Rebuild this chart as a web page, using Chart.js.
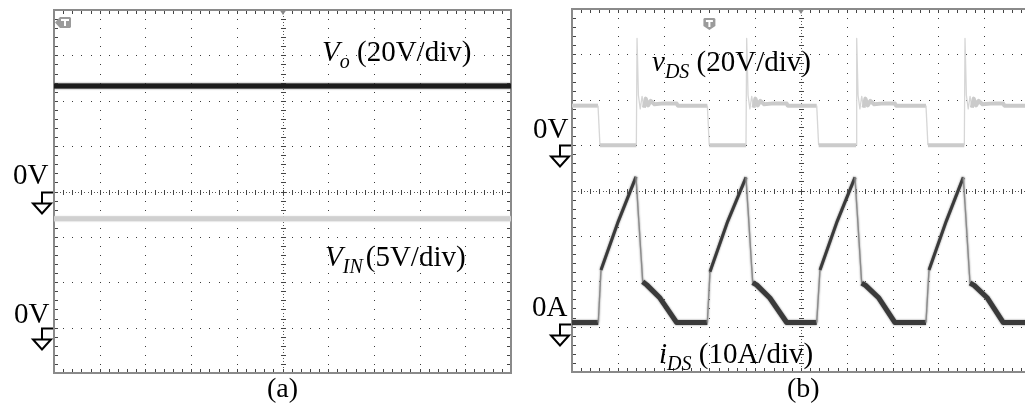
<!DOCTYPE html>
<html><head><meta charset="utf-8">
<title>Oscilloscope waveforms (a) and (b)</title>
<script src="https://cdn.jsdelivr.net/npm/chart.js@4.4.1/dist/chart.umd.min.js"></script>
<style>
html,body{margin:0;padding:0;background:#fff;}
#wrap{position:relative;width:1025px;height:410px;overflow:hidden;background:#fff;}
#wrap canvas{position:absolute;top:0;}
.t{position:absolute;font-family:"Liberation Serif","Times New Roman",serif;font-size:29px;line-height:29px;color:#000;white-space:nowrap;}
.t i{font-style:italic;}
.t sub{font-size:20px;font-style:italic;vertical-align:baseline;position:relative;top:7px;line-height:0;}
.cap{font-size:28px;line-height:28px;}
</style></head>
<body>
<div id="wrap">
 <canvas id="chartA" width="520" height="410" style="left:0;width:520px;height:410px"></canvas>
 <canvas id="chartB" width="520" height="410" style="left:520px;width:520px;height:410px"></canvas>
 <div class="t" style="left:322px;top:37px"><i>V</i><sub>o</sub> (20V/div)</div>
 <div class="t" style="left:325px;top:242px"><i>V</i><sub style="margin-right:3px">IN</sub>(5V/div)</div>
 <div class="t" style="left:13px;top:160px">0V</div>
 <div class="t" style="left:14px;top:299px">0V</div>
 <div class="t" style="left:652px;top:47px"><i>v</i><sub>DS</sub> (20V/div)</div>
 <div class="t" style="left:533px;top:114px">0V</div>
 <div class="t" style="left:532px;top:292px">0A</div>
 <div class="t" style="left:659px;top:339px"><i>i</i><sub>DS</sub> (10A/div)</div>
 <div class="t cap" style="left:267px;top:374px">(a)</div>
 <div class="t cap" style="left:787px;top:374px">(b)</div>
</div>
<script>
// ---------- Panel (a) : time in divisions, values in volts ----------
const aTime = [0, 2, 4, 6, 8, 10];
const aVo   = [46.5, 46.5, 46.5, 46.5, 46.5, 46.5];
const aVin  = [12, 12, 12, 12, 12, 12];

// ---------- Panel (b) : time in divisions ----------
const bTimeV = [0,
  0.568, 0.61, 1.405, 1.42, 1.45, 1.49, 1.53, 1.57, 1.61, 1.66, 1.72, 1.80, 2.0, 2.286, 2.31,
  2.955, 2.997, 3.799, 3.814, 3.844, 3.884, 3.924, 3.964, 4.004, 4.054, 4.114, 4.194, 4.4, 4.688, 4.71,
  5.343, 5.385, 6.201, 6.216, 6.246, 6.286, 6.326, 6.366, 6.406, 6.456, 6.516, 6.596, 6.8, 7.052, 7.075,
  7.729, 7.771, 8.566, 8.581, 8.611, 8.651, 8.691, 8.731, 8.771, 8.821, 8.881, 8.961, 9.2, 9.417, 9.44,
  10];
const bVds = [17.4,
  17.4, 0, 0, 47, 22, 16, 21.5, 16.5, 20.5, 17.5, 19.5, 18, 18.4, 18.3, 17.4,
  17.4, 0, 0, 47, 22, 16, 21.5, 16.5, 20.5, 17.5, 19.5, 18, 18.4, 18.3, 17.4,
  17.4, 0, 0, 47, 22, 16, 21.5, 16.5, 20.5, 17.5, 19.5, 18, 18.4, 18.3, 17.4,
  17.4, 0, 0, 47, 22, 16, 21.5, 16.5, 20.5, 17.5, 19.5, 18, 18.4, 18.3, 17.4,
  17.4];
const bTimeI = [0,
  0.574, 0.633, 1.011, 1.397, 1.544, 1.631, 1.921, 2.286,
  2.955, 3.013, 3.40, 3.799, 3.945, 4.03, 4.32, 4.688,
  5.343, 5.415, 5.79, 6.179, 6.325, 6.41, 6.70, 7.052,
  7.729, 7.795, 8.17, 8.544, 8.690, 8.78, 9.07, 9.417,
  10];
const bIds = [0.3,
  0.3, 11.9, 22.6, 32.4, 9.3, 8.6, 5.7, 0.3,
  0.3, 11.5, 22.6, 32.3, 9.1, 8.6, 5.7, 0.3,
  0.3, 11.9, 22.6, 32.3, 9.0, 8.5, 5.7, 0.3,
  0.3, 11.9, 22.6, 32.3, 9.0, 8.5, 5.7, 0.3,
  0.3];

// channel settings: units per division, ground position (divisions above bottom)
const voPerDiv = 20, voGround = 4;
const vinPerDiv = 5, vinGround = 1;
const vdsPerDiv = 20, vdsGround = 5;
const idsPerDiv = 10, idsGround = 1.06;
const DIVX = 10, DIVY = 8;

const pts = (t, v) => t.map((x, i) => ({x, y: v[i]}));
const chAxis = (perDiv, ground) => ({type: 'linear', display: false, min: -ground * perDiv, max: (DIVY - ground) * perDiv});

const graticule = {
  id: 'graticule',
  beforeDatasetsDraw(chart, args, opts) {
    const ctx = chart.ctx, a = chart.chartArea;
    const xs = chart.scales.x, ys = chart.scales.y;
    const X = v => xs.getPixelForValue(v), Y = v => ys.getPixelForValue(v);
    ctx.save();
    ctx.fillStyle = '#3a3a3a';
    for (let i = 1; i < DIVX; i++) {
      if (i === DIVX / 2) continue;
      const x = Math.round(X(i));
      for (let k = 1; k < DIVY * 5; k++) ctx.fillRect(x, Math.round(Y(k / 5)), 1, 1);
    }
    for (let j = 1; j < DIVY; j++) {
      if (j === DIVY / 2) continue;
      const y = Math.round(Y(j));
      for (let k = 1; k < DIVX * 5; k++) ctx.fillRect(Math.round(X(k / 5)), y, 1, 1);
    }
    const cx = Math.round(X(DIVX / 2)), cy = Math.round(Y(DIVY / 2));
    ctx.fillStyle = '#555';
    for (let k = 1; k < DIVY * 15; k++) ctx.fillRect(cx, Math.round(Y(k / 15)), 1, 1);
    for (let k = 1; k < DIVX * 15; k++) ctx.fillRect(Math.round(X(k / 15)), cy, 1, 1);
    ctx.fillStyle = '#444';
    for (let k = 1; k < DIVY * 5; k++) ctx.fillRect(cx - 2, Math.round(Y(k / 5)), 5, 1);
    for (let k = 1; k < DIVX * 5; k++) ctx.fillRect(Math.round(X(k / 5)), cy - 2, 1, 5);
    for (let k = 1; k < DIVY * 5; k++) {
      const y = Math.round(Y(k / 5));
      ctx.fillRect(a.left, y, 4, 1);
      ctx.fillRect(a.right - 4, y, 4, 1);
    }
    for (let k = 1; k < DIVX * 5; k++) {
      const x = Math.round(X(k / 5));
      ctx.fillRect(x, a.top, 1, 4);
      ctx.fillRect(x, a.bottom - 4, 1, 4);
    }
    ctx.strokeStyle = '#8a8a8a';
    ctx.lineWidth = 2;
    ctx.strokeRect(a.left, a.top, a.right - a.left, a.bottom - a.top);
    ctx.fillStyle = '#8a8a8a';
    ctx.beginPath();
    ctx.moveTo(cx - 4, a.top - 1); ctx.lineTo(cx + 4, a.top - 1); ctx.lineTo(cx, a.top + 5); ctx.closePath(); ctx.fill();
    ctx.fillStyle = '#9b9b9b';
    const tx = X(opts.trigX), ty = a.top;
    ctx.beginPath();
    if (opts.trigDir === 'left') {
      ctx.moveTo(tx + 1, ty + 12.5);
      ctx.lineTo(tx + 6, ty + 7);
      ctx.lineTo(tx + 16, ty + 7);
      ctx.lineTo(tx + 17, ty + 8);
      ctx.lineTo(tx + 17, ty + 17);
      ctx.lineTo(tx + 16, ty + 18);
      ctx.lineTo(tx + 6, ty + 18);
      ctx.closePath(); ctx.fill();
      ctx.fillStyle = '#fff';
      ctx.fillRect(tx + 7, ty + 9, 8, 2);
      ctx.fillRect(tx + 10, ty + 9, 2, 7);
    } else {
      ctx.moveTo(tx - 5, ty + 9);
      ctx.lineTo(tx + 5, ty + 9);
      ctx.lineTo(tx + 6, ty + 10);
      ctx.lineTo(tx + 6, ty + 17);
      ctx.lineTo(tx, ty + 21);
      ctx.lineTo(tx - 6, ty + 17);
      ctx.lineTo(tx - 6, ty + 10);
      ctx.closePath(); ctx.fill();
      ctx.fillStyle = '#fff';
      ctx.fillRect(tx - 3.5, ty + 11, 7, 2);
      ctx.fillRect(tx - 1, ty + 11, 2, 7);
    }
    ctx.restore();
  },
  beforeDatasetDraw(chart, args) {
    const ds = chart.data.datasets[args.index];
    chart.ctx.save();
    if (ds.fuzz) { chart.ctx.shadowColor = ds.fuzz; chart.ctx.shadowBlur = 2; }
  },
  afterDatasetDraw(chart) { chart.ctx.restore(); },
  afterDraw(chart, args, opts) {
    const ctx = chart.ctx, a = chart.chartArea;
    ctx.save();
    ctx.strokeStyle = '#000';
    ctx.fillStyle = '#fff';
    ctx.lineWidth = 2;
    (opts.grounds || []).forEach(id => {
      const g = Math.round(chart.scales[id].getPixelForValue(0)) + 0.5;
      const fx = a.left - 12;
      ctx.beginPath();
      ctx.moveTo(a.left - 1, g); ctx.lineTo(fx, g); ctx.lineTo(fx, g + 11);
      ctx.stroke();
      ctx.beginPath();
      ctx.moveTo(fx - 9, g + 11); ctx.lineTo(fx + 9, g + 11); ctx.lineTo(fx, g + 21); ctx.closePath();
      ctx.fill(); ctx.stroke();
    });
    ctx.restore();
  }
};

const common = {
  responsive: false, animation: false, devicePixelRatio: 1,
  plugins: {legend: {display: false}, tooltip: {enabled: false}},
  elements: {point: {radius: 0}, line: {tension: 0, borderCapStyle: 'butt', borderJoinStyle: 'round'}}
};

const steep = c => Math.abs(c.p1.y - c.p0.y) > 5 * Math.abs(c.p1.x - c.p0.x);

new Chart(document.getElementById('chartA'), {
  type: 'line',
  data: {datasets: [
    {label: 'Vo', data: pts(aTime, aVo), yAxisID: 'yVo', borderColor: '#1c1c1c', borderWidth: 5, fuzz: '#444'},
    {label: 'VIN', data: pts(aTime, aVin), yAxisID: 'yIn', borderColor: '#d0d0d0', borderWidth: 5, fuzz: '#ddd'}
  ]},
  options: Object.assign({}, common, {
    layout: {padding: {left: 54, right: 9, top: 10, bottom: 37}},
    scales: {
      x: {type: 'linear', display: false, min: 0, max: DIVX},
      y: {type: 'linear', display: false, min: 0, max: DIVY},
      yVo: chAxis(voPerDiv, voGround),
      yIn: chAxis(vinPerDiv, vinGround)
    },
    plugins: Object.assign({}, common.plugins, {graticule: {grounds: ['yVo', 'yIn'], trigX: 0, trigDir: 'left'}})
  }),
  plugins: [graticule]
});

new Chart(document.getElementById('chartB'), {
  type: 'line',
  data: {datasets: [
    {label: 'vDS', data: pts(bTimeV, bVds), yAxisID: 'yVds', borderColor: '#cbcbcb', borderWidth: 4,
     segment: {borderWidth: c => steep(c) ? 1.3 : 4, borderColor: c => steep(c) ? '#d6d6d6' : '#cbcbcb'}},
    {label: 'iDS', data: pts(bTimeI, bIds), yAxisID: 'yIds', borderColor: '#3a3a3a', borderWidth: 5, fuzz: '#777',
     segment: {
       borderWidth: c => steep(c) ? 1.3 : (c.p1.y < c.p0.y - 5 ? 3 : 5),
       borderColor: c => steep(c) ? '#8c8c8c' : '#3a3a3a'}}
  ]},
  options: Object.assign({}, common, {
    layout: {padding: {left: 52, right: 10, top: 9, bottom: 38}},
    scales: {
      x: {type: 'linear', display: false, min: 0, max: DIVX},
      y: {type: 'linear', display: false, min: 0, max: DIVY},
      yVds: chAxis(vdsPerDiv, vdsGround),
      yIds: chAxis(idsPerDiv, idsGround)
    },
    plugins: Object.assign({}, common.plugins, {graticule: {grounds: ['yVds', 'yIds'], trigX: 3, trigDir: 'down'}})
  }),
  plugins: [graticule]
});
</script>
</body></html>
